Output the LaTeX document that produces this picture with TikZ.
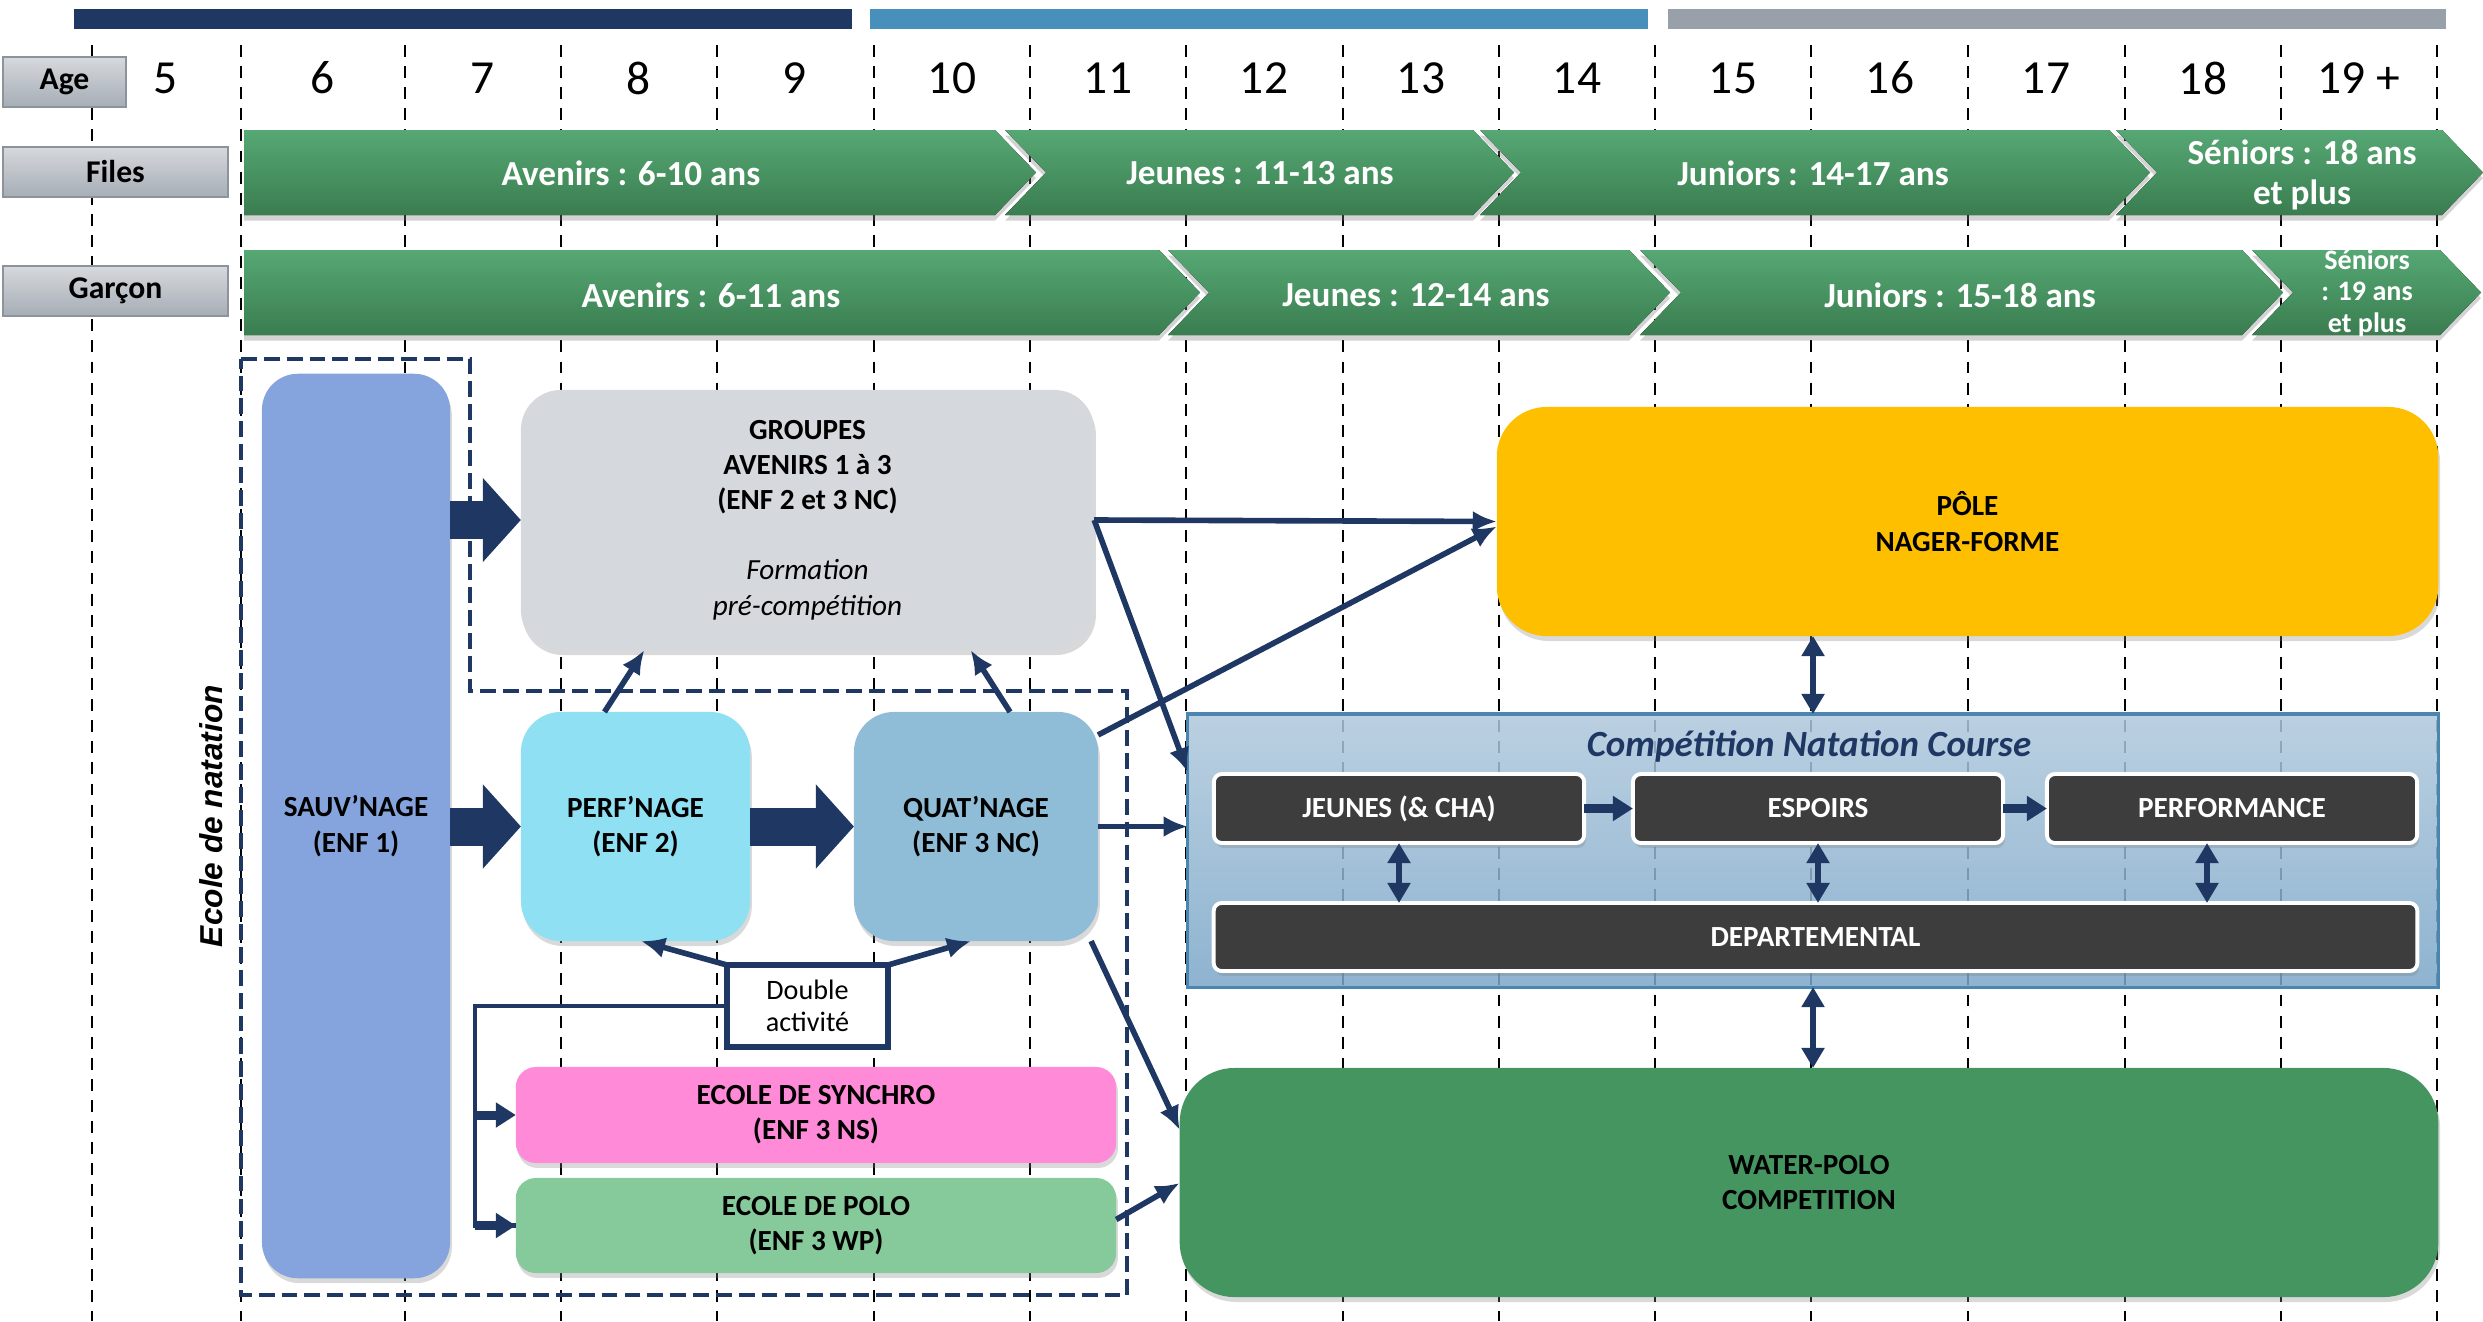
\documentclass[tikz,border=0pt]{standalone}
\usepackage{fontspec}
\setmainfont{Carlito}
\newfontfamily\ecolefont{Liberation Sans}
\usetikzlibrary{arrows.meta,shadows}
\definecolor{NatNavy}{RGB}{31,55,99}
\definecolor{NatBarBlue}{RGB}{72,144,188}
\definecolor{NatBarGray}{RGB}{152,160,169}
\definecolor{NatChevTop}{RGB}{86,168,116}
\definecolor{NatChevBot}{RGB}{58,125,80}
\definecolor{NatTagTop}{RGB}{214,217,221}
\definecolor{NatTagBot}{RGB}{166,173,181}
\definecolor{NatTagEdge}{RGB}{140,147,155}
\definecolor{NatSauv}{RGB}{133,164,222}
\definecolor{NatGroupes}{RGB}{213,216,220}
\definecolor{NatPerf}{RGB}{142,224,242}
\definecolor{NatQuat}{RGB}{143,189,215}
\definecolor{NatSynchro}{RGB}{255,138,216}
\definecolor{NatPolo}{RGB}{134,201,155}
\definecolor{NatPole}{RGB}{253,191,0}
\definecolor{NatWP}{RGB}{68,149,95}
\definecolor{NatCompTop}{RGB}{175,200,220}
\definecolor{NatCompBot}{RGB}{122,166,200}
\definecolor{NatCompEdge}{RGB}{74,134,176}
\definecolor{NatDark}{RGB}{61,61,61}

\begin{document}
\begin{tikzpicture}[x=0.01cm,y=-0.01cm,
  lane/.style={draw=black,line width=0.7pt,dash pattern=on 3.4pt off 2.6pt},
  tag/.style={draw=NatTagEdge,line width=0.8pt,top color=NatTagTop,bottom color=NatTagBot,
              minimum height=0.5cm,inner sep=0pt,font=\fontsize{9}{10}\selectfont\bfseries},
  year/.style={font=\fontsize{13.5}{15}\selectfont},
  chev/.style={top color=NatChevTop,bottom color=NatChevBot,
               drop shadow={shadow xshift=0pt,shadow yshift=-1.6pt,opacity=0.35}},
  chevtext/.style={text=white,align=center,font=\fontsize{10}{11.4}\selectfont\bfseries},
  pool/.style={align=center,inner sep=0pt,outer sep=0pt,
               font=\fontsize{8.3}{10}\selectfont\bfseries,
               drop shadow={shadow xshift=0.5pt,shadow yshift=-1.4pt,opacity=0.3}},
  dark/.style={pool,fill=NatDark,draw=white,line width=1.1pt,rounded corners=0.08cm,
               text=white,minimum width=3.7cm,minimum height=0.69cm},
  ecoleframe/.style={draw=NatNavy,line width=1.1pt,dash pattern=on 4.5pt off 2pt},
  link/.style={draw=NatNavy,line width=1.6pt,-{Latex[length=0.24cm,width=0.21cm]}},
  wire/.style={draw=NatNavy,line width=1.4pt},
  fat/.style={draw=NatNavy,line width=0.38cm,-{Triangle[length=0.38cm,width=0.82cm]}},
  stub/.style={draw=NatNavy,line width=0.09cm,-{Triangle[length=0.2cm,width=0.24cm]}},
  twoway/.style={draw=NatNavy,line width=1.6pt,
                 {Triangle[length=0.2cm,width=0.22cm]}-{Triangle[length=0.2cm,width=0.22cm]}}
]
\useasboundingbox (0,0) rectangle (2483,1321);
% bandes de couleur
\fill[NatNavy] (74,9) rectangle (852,29);
\fill[NatBarBlue] (870,9) rectangle (1648,29);
\fill[NatBarGray] (1668,9) rectangle (2446,29);
% grille des ages
\foreach \gx in {92,241,405,561,717,874,1030,1186,1343,1499,1655,1811,1968,2125,2281,2437}
  \draw[lane] (\gx,45) -- (\gx,1321);
\foreach \gx/\ga [count=\gi] in {166/5,323/6,483/7,639/8,795/9,952/10,1108/11,1264/12,1421/13,
                                 1577/14,1733/15,1890/16,2046/17,2203/18,2359/{19 +}}
  \node[year] (age\gi) at (\gx,78) {\ga};
\node[tag,minimum width=1.23cm] (agetag) at (64.5,82) {Age};
\node[tag,minimum width=2.25cm] (filles) at (115.5,172) {Files};
\node[tag,minimum width=2.25cm] (garcon) at (115.5,291) {Garçon};
% categories filles
\fill[chev] (244,130) -- (995,130) -- (1036,172.5) -- (995,215) -- (244,215) -- cycle;
\foreach \cl/\cr in {1005/1473,1480/2109,2116/2442}
  \fill[chev] (\cl,130) -- (\cr,130) -- (\cr+41,172.5) -- (\cr,215) -- (\cl,215) -- (\cl+41,172.5) -- cycle;
\node[chevtext] (fav) at (631,173) {Avenirs : 6-10 ans};
\node[chevtext] (fjeu) at (1260,173) {Jeunes : 11-13 ans};
\node[chevtext] (fjun) at (1813,173) {Juniors : 14-17 ans};
\node[chevtext] (fsen) at (2302,175) {Séniors : 18 ans\\et plus};
% categories garcons
\fill[chev] (244,250) -- (1159,250) -- (1200,292.5) -- (1159,335) -- (244,335) -- cycle;
\foreach \cl/\cr in {1168/1629,1640/2242,2252/2440}
  \fill[chev] (\cl,250) -- (\cr,250) -- (\cr+41,292.5) -- (\cr,335) -- (\cl,335) -- (\cl+41,292.5) -- cycle;
\node[chevtext] (gav) at (711,295) {Avenirs : 6-11 ans};
\node[chevtext] (gjeu) at (1416,295) {Jeunes : 12-14 ans};
\node[chevtext] (gjun) at (1960,295) {Juniors : 15-18 ans};
\node[chevtext,font=\fontsize{8}{9}\selectfont\bfseries] (gsen) at (2367,293) {Séniors\\: 19 ans\\et plus};
% ecole de natation
\node[rotate=90,font=\ecolefont\fontsize{9}{10}\selectfont\bfseries\itshape] (ecole) at (211,816) {Ecole de natation};
\node[pool,fill=NatSauv,rounded corners=0.36cm,minimum width=1.88cm,minimum height=9.04cm] (sauv) at (356,826) {SAUV’NAGE\\(ENF 1)};
\node[pool,fill=NatGroupes,rounded corners=0.4cm,minimum width=5.73cm,minimum height=2.6cm] (grp) at (807.5,520)
  {GROUPES\\AVENIRS 1 à 3\\(ENF 2 et 3 NC)\\[10pt]{\normalfont\itshape Formation}\\{\normalfont\itshape pré-compétition}};
\node[pool,fill=NatPerf,rounded corners=0.4cm,minimum width=2.29cm,minimum height=2.29cm] (perf) at (635.5,826.5) {PERF’NAGE\\(ENF 2)};
\node[pool,fill=NatQuat,rounded corners=0.4cm,minimum width=2.44cm,minimum height=2.29cm] (quat) at (976,826.5) {QUAT’NAGE\\(ENF 3 NC)};
\node[pool,fill=NatSynchro,rounded corners=0.2cm,minimum width=6cm,minimum height=0.96cm] (synchro) at (816,1115) {ECOLE DE SYNCHRO\\(ENF 3 NS)};
\node[pool,fill=NatPolo,rounded corners=0.2cm,minimum width=6cm,minimum height=0.95cm] (polo) at (816,1225.5) {ECOLE DE POLO\\(ENF 3 WP)};
\node[draw=NatNavy,line width=1.7pt,fill=white,minimum width=1.61cm,minimum height=0.82cm,inner sep=0pt,outer sep=0pt,
      align=center,font=\fontsize{8}{9.2}\selectfont] (dbl) at (807.5,1006) {Double\\activité};
\draw[ecoleframe] (241,359) -- (470,359) -- (470,691) -- (1127,691) -- (1127,1295) -- (241,1295) -- cycle;
% filieres competition
\node[pool,fill=NatPole,rounded corners=0.5cm,minimum width=9.41cm,minimum height=2.29cm] (pole) at (1967.5,521.5) {PÔLE\\NAGER-FORME};
\node[draw=NatCompEdge,line width=0.9pt,top color=NatCompTop,bottom color=NatCompBot,fill opacity=0.85,
      minimum width=12.5cm,minimum height=2.73cm,inner sep=0pt,outer sep=0pt] (comp) at (1813,850.5) {};
\node[text=NatNavy,font=\fontsize{10.5}{12}\selectfont\bfseries\itshape] (comptitle) at (1809,746) {Compétition Natation Course};
\node[dark] (jeunes) at (1399,808.5) {JEUNES (\& CHA)};
\node[dark] (espoirs) at (1818,808.5) {ESPOIRS};
\node[dark] (perfo) at (2232,808.5) {PERFORMANCE};
\node[dark,minimum width=12.03cm,minimum height=0.68cm] (depart) at (1815.5,937) {DEPARTEMENTAL};
\node[pool,fill=NatWP,rounded corners=0.55cm,minimum width=12.58cm,minimum height=2.29cm] (wp) at (1809,1182.5) {WATER-POLO\\COMPETITION};
% fleches
\draw[fat] (sauv.east |- grp.west) -- (grp.west);
\draw[fat] (sauv.east |- perf.west) -- (perf.west);
\draw[fat] (perf.east) -- (quat.west);
\draw[link] ([xshift=-0.31cm]perf.north) -- ([xshift=-1.63cm]grp.south);
\draw[link] ([xshift=0.34cm]quat.north) -- ([xshift=1.63cm]grp.south);
\draw[link] (grp.east) -- (pole.west);
\draw[link] (grp.east) -- ([yshift=-0.58cm]comp.north west);
\draw[link] ([yshift=-0.23cm]quat.north east) -- ([yshift=-0.05cm]pole.west);
\draw[link] (quat.east) -- (quat.east -| comp.west);
\draw[link] ([xshift=-0.07cm]quat.south east) -- ([yshift=-0.62cm]wp.north west);
\draw[link] ([yshift=0.06cm]polo.east) -- ([yshift=-1.15cm]wp.north west);
\draw[link] (dbl.north west) -- ([xshift=0.055cm]perf.south);
\draw[link] (dbl.north east) -- ([xshift=-0.05cm]quat.south);
\coordinate (split) at (475,1006);
\draw[wire] (dbl.west) -- (split) |- (polo.west);
\draw[stub] (split |- synchro.west) -- (synchro.west);
\draw[stub] (split |- polo.west) -- (polo.west);
\draw[stub] (jeunes.east) -- (espoirs.west);
\draw[stub] (espoirs.east) -- (perfo.west);
\draw[twoway] (jeunes.south) -- (jeunes.south |- depart.north);
\draw[twoway] (espoirs.south) -- (espoirs.south |- depart.north);
\draw[twoway] ([xshift=-0.25cm]perfo.south) -- ([xshift=-0.25cm]perfo.south |- depart.north);
\draw[twoway] (comp.north |- pole.south) -- (comp.north);
\draw[twoway] (comp.south) -- (comp.south |- wp.north);
\end{tikzpicture}
\end{document}
